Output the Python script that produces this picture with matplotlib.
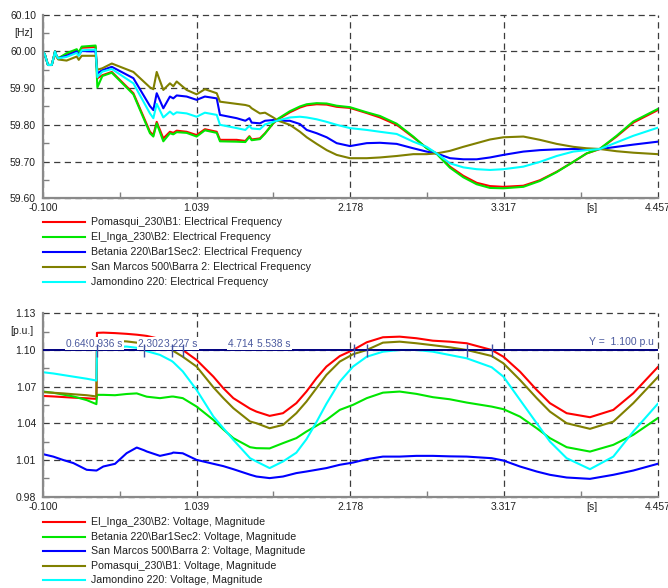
import numpy as np
import matplotlib.pyplot as plt

plt.rcParams['font.family'] = ['Liberation Sans', 'DejaVu Sans']

# shared time axis [s]
x_ticks = [-0.100, 1.039, 2.178, 3.317, 4.457]
x_ticklabels = ['-0.100', '1.039', '2.178', '3.317', '4.457']

# ---- electrical frequency [Hz] ----
t_freq = [-0.100, -0.085, -0.063, -0.035, -0.020, -0.011, 0.000, 0.013,
          0.075, 0.150, 0.165, 0.187, 0.290, 0.303, 0.340, 0.410,
          0.570, 0.693, 0.718, 0.743, 0.792, 0.841, 0.866, 0.891,
          0.965, 1.039, 1.100, 1.188, 1.212, 1.336, 1.400, 1.430,
          1.447, 1.508, 1.546, 1.607, 1.644, 1.730, 1.805, 1.855,
          1.929, 2.003, 2.077, 2.176, 2.300, 2.398, 2.522, 2.645,
          2.744, 2.818, 2.917, 3.016, 3.115, 3.214, 3.313, 3.461,
          3.584, 3.708, 3.831, 3.930, 4.029, 4.152, 4.276, 4.457]

f_pomasqui = [60.000, 59.990, 59.963, 59.963, 59.985, 60.000, 59.988, 59.981,
              59.993, 60.004, 59.995, 60.010, 60.012, 59.927, 59.935, 59.944,
              59.886, 59.781, 59.772, 59.808, 59.763, 59.781, 59.778, 59.784,
              59.781, 59.772, 59.788, 59.781, 59.759, 59.759, 59.756, 59.769,
              59.760, 59.763, 59.777, 59.804, 59.815, 59.834, 59.847, 59.853,
              59.856, 59.855, 59.849, 59.846, 59.832, 59.820, 59.800, 59.766,
              59.737, 59.722, 59.686, 59.661, 59.642, 59.633, 59.631, 59.634,
              59.649, 59.672, 59.699, 59.722, 59.734, 59.768, 59.806, 59.840]

f_el_inga = [60.000, 59.990, 59.963, 59.963, 59.985, 60.000, 59.988, 59.981,
             59.995, 60.006, 59.997, 60.013, 60.016, 59.902, 59.933, 59.942,
             59.883, 59.777, 59.768, 59.804, 59.755, 59.777, 59.774, 59.780,
             59.778, 59.768, 59.785, 59.778, 59.755, 59.754, 59.753, 59.767,
             59.758, 59.761, 59.776, 59.805, 59.817, 59.837, 59.850, 59.856,
             59.859, 59.858, 59.852, 59.848, 59.834, 59.824, 59.803, 59.768,
             59.736, 59.721, 59.683, 59.657, 59.638, 59.628, 59.627, 59.631,
             59.647, 59.671, 59.699, 59.722, 59.735, 59.770, 59.809, 59.843]

f_betania = [60.000, 59.990, 59.963, 59.963, 59.985, 60.000, 59.988, 59.981,
             59.988, 60.000, 59.990, 60.001, 60.000, 59.940, 59.949, 59.958,
             59.927, 59.851, 59.840, 59.886, 59.845, 59.877, 59.872, 59.880,
             59.877, 59.868, 59.877, 59.872, 59.827, 59.818, 59.811, 59.818,
             59.806, 59.804, 59.811, 59.813, 59.811, 59.811, 59.802, 59.786,
             59.777, 59.766, 59.750, 59.742, 59.750, 59.751, 59.748, 59.736,
             59.727, 59.722, 59.709, 59.706, 59.706, 59.711, 59.718, 59.727,
             59.731, 59.733, 59.734, 59.734, 59.734, 59.740, 59.746, 59.754]

f_san_marcos = [60.000, 59.990, 59.963, 59.963, 59.985, 60.000, 59.985, 59.978,
                59.975, 59.986, 59.977, 59.988, 59.988, 59.950, 59.954, 59.967,
                59.944, 59.902, 59.897, 59.944, 59.895, 59.913, 59.905, 59.918,
                59.895, 59.883, 59.897, 59.886, 59.863, 59.857, 59.854, 59.851,
                59.845, 59.831, 59.833, 59.820, 59.811, 59.800, 59.781, 59.766,
                59.748, 59.731, 59.718, 59.709, 59.709, 59.711, 59.715, 59.720,
                59.720, 59.722, 59.729, 59.740, 59.750, 59.760, 59.766, 59.768,
                59.759, 59.748, 59.740, 59.736, 59.734, 59.728, 59.724, 59.720]

f_jamondino = [60.000, 59.990, 59.963, 59.963, 59.985, 60.000, 59.988, 59.981,
               59.985, 59.996, 59.988, 60.003, 60.005, 59.930, 59.945, 59.952,
               59.913, 59.831, 59.818, 59.857, 59.820, 59.836, 59.828, 59.834,
               59.831, 59.822, 59.833, 59.827, 59.800, 59.791, 59.786, 59.797,
               59.790, 59.788, 59.801, 59.808, 59.812, 59.820, 59.822, 59.820,
               59.815, 59.808, 59.800, 59.791, 59.786, 59.781, 59.775, 59.754,
               59.740, 59.722, 59.695, 59.684, 59.679, 59.677, 59.679, 59.686,
               59.699, 59.715, 59.727, 59.731, 59.734, 59.752, 59.770, 59.792]

freq_ticks = [59.60, 59.70, 59.80, 59.90, 60.00, 60.10]
freq_ticklabels = ['59.60', '59.70', '59.80', '59.90', '60.00', '60.10']
freq_labels = ['Pomasqui_230\\B1: Electrical Frequency',
               'El_Inga_230\\B2: Electrical Frequency',
               'Betania 220\\Bar1Sec2: Electrical Frequency',
               'San Marcos 500\\Barra 2: Electrical Frequency',
               'Jamondino 220: Electrical Frequency']

# ---- voltage magnitude [p.u.] ----
t_volt = [-0.100, -0.024, 0.050, 0.125, 0.224, 0.296, 0.300, 0.347,
          0.434, 0.520, 0.595, 0.649, 0.669, 0.767, 0.854, 0.866,
          0.936, 1.039, 1.163, 1.237, 1.311, 1.435, 1.482, 1.580,
          1.679, 1.778, 1.853, 1.927, 2.001, 2.100, 2.198, 2.300,
          2.420, 2.544, 2.668, 2.790, 2.915, 3.041, 3.226, 3.313,
          3.436, 3.560, 3.658, 3.782, 3.955, 4.128, 4.276, 4.457]

v_el_inga = [1.0624, 1.0620, 1.0615, 1.0610, 1.0605, 1.0600, 1.1140, 1.1142,
             1.1138, 1.1132, 1.1125, 1.1118, 1.1115, 1.1090, 1.1045, 1.1038,
             1.1000, 1.0918, 1.0782, 1.0687, 1.0606, 1.0520, 1.0496, 1.0461,
             1.0483, 1.0565, 1.0660, 1.0769, 1.0864, 1.0950, 1.1000, 1.1063,
             1.1104, 1.1109, 1.1096, 1.1076, 1.1068, 1.1055, 1.1000, 1.0945,
             1.0823, 1.0673, 1.0565, 1.0483, 1.0450, 1.0510, 1.0646, 1.0859]

v_betania = [1.0660, 1.0650, 1.0635, 1.0620, 1.0590, 1.0557, 1.0633, 1.0633,
             1.0630, 1.0640, 1.0645, 1.0625, 1.0618, 1.0606, 1.0619, 1.0619,
             1.0606, 1.0537, 1.0428, 1.0350, 1.0279, 1.0205, 1.0197, 1.0195,
             1.0238, 1.0279, 1.0333, 1.0380, 1.0428, 1.0510, 1.0551, 1.0606,
             1.0651, 1.0660, 1.0641, 1.0614, 1.0597, 1.0570, 1.0537, 1.0516,
             1.0455, 1.0360, 1.0279, 1.0205, 1.0169, 1.0224, 1.0306, 1.0442]

v_san_marcos = [1.0148, 1.0128, 1.0100, 1.0075, 1.0020, 1.0014, 1.0016, 1.0047,
                1.0069, 1.0156, 1.0202, 1.0180, 1.0170, 1.0134, 1.0155, 1.0161,
                1.0155, 1.0101, 1.0069, 1.0050, 1.0025, 0.9980, 0.9965, 0.9952,
                0.9965, 0.9993, 1.0006, 1.0020, 1.0034, 1.0061, 1.0079, 1.0107,
                1.0128, 1.0128, 1.0134, 1.0134, 1.0130, 1.0128, 1.0115, 1.0096,
                1.0047, 1.0006, 0.9979, 0.9957, 0.9946, 0.9979, 1.0014, 1.0069]

v_pomasqui = [1.0655, 1.0650, 1.0645, 1.0638, 1.0630, 1.0620, 1.1080, 1.1080,
              1.1075, 1.1070, 1.1060, 1.1050, 1.1045, 1.1030, 1.1000, 1.0992,
              1.0945, 1.0864, 1.0695, 1.0606, 1.0524, 1.0415, 1.0401, 1.0360,
              1.0387, 1.0483, 1.0578, 1.0687, 1.0796, 1.0905, 1.0965, 1.1000,
              1.1060, 1.1068, 1.1055, 1.1039, 1.1022, 1.1000, 1.0951, 1.0891,
              1.0755, 1.0606, 1.0496, 1.0401, 1.0355, 1.0414, 1.0565, 1.0777]

v_jamondino = [1.0818, 1.0808, 1.0795, 1.0782, 1.0765, 1.0750, 1.1005, 1.1015,
               1.1025, 1.1028, 1.1018, 1.1000, 1.0990, 1.0960, 1.0910, 1.0900,
               1.0825, 1.0673, 1.0456, 1.0360, 1.0265, 1.0115, 1.0088, 1.0034,
               1.0088, 1.0160, 1.0270, 1.0410, 1.0560, 1.0741, 1.0864, 1.0945,
               1.0986, 1.1000, 1.1000, 1.0986, 1.0959, 1.0932, 1.0859, 1.0782,
               1.0592, 1.0401, 1.0251, 1.0115, 1.0025, 1.0128, 1.0333, 1.0559]

volt_ticks = [0.98, 1.01, 1.04, 1.07, 1.10, 1.13]
volt_ticklabels = ['0.98', '1.01', '1.04', '1.07', '1.10', '1.13']
volt_labels = ['El_Inga_230\\B2: Voltage, Magnitude',
               'Betania 220\\Bar1Sec2: Voltage, Magnitude',
               'San Marcos 500\\Barra 2: Voltage, Magnitude',
               'Pomasqui_230\\B1: Voltage, Magnitude',
               'Jamondino 220: Voltage, Magnitude']

# y-cursor at 1.100 p.u. and where the curves cross it
y_cursor = 1.100
cross_times = [0.298, 0.649, 0.854, 0.936, 2.204, 2.304, 3.041, 3.226]
cursor_texts = ['0.649 s', '0.936 s', '2.302 s', '3.227 s', '4.714 s', '5.538 s']

colors = ['#ff0000', '#00e600', '#0000ff', '#808000', '#00ffff']
W, H = 668, 588
TXT = '#202020'


def style_axes(ax, yticks, ylabels):
    ax.set_xlim(x_ticks[0], x_ticks[-1])
    ax.set_ylim(yticks[0], yticks[-1])
    ax.set_xticks(x_ticks)
    ax.set_xticklabels(x_ticklabels)
    ax.set_yticks(yticks)
    ax.set_yticklabels(ylabels)
    ax.set_xticks(np.convolve(x_ticks, [0.5, 0.5], 'valid'), minor=True)
    ax.set_yticks(np.convolve(yticks, [0.5, 0.5], 'valid'), minor=True)
    ax.tick_params(which='major', length=0, labelsize=7.5, labelcolor=TXT)
    ax.tick_params(axis='x', which='major', pad=3.5)
    ax.tick_params(axis='y', which='major', pad=5)
    ax.tick_params(which='minor', direction='in', length=4, width=1, color='#808080')
    for s in ['top', 'right']:
        ax.spines[s].set_visible(False)
    for s in ['left', 'bottom']:
        ax.spines[s].set_color('#8a8a8a')
        ax.spines[s].set_linewidth(1.6)
        ax.spines[s].set_zorder(5)
    ax.grid(which='major', color='#3c3c3c', lw=0.9, ls=(0, (5, 3.5)))
    for gl in ax.get_xgridlines() + ax.get_ygridlines():
        gl.set_clip_on(False)
    ax.set_axisbelow(True)


def draw_legend(labels, y0, dy):
    for i, (lab, c) in enumerate(zip(labels, colors)):
        y = 1 - (y0 + i * dy) / H
        fig.add_artist(plt.Line2D([43 / W, 85 / W], [y, y], color=c, lw=1.5))
        fig.text(91 / W, y, lab, fontsize=7.7, color=TXT, va='center', ha='left')


fig = plt.figure(figsize=(W / 100, H / 100), dpi=100)
ax1 = fig.add_axes([43 / W, 1 - 198.2 / H, 614.7 / W, 183.5 / H])
ax2 = fig.add_axes([43 / W, 1 - 496.7 / H, 614.7 / W, 183.4 / H])

# frequency plot
for series, c in zip([f_pomasqui, f_el_inga, f_betania, f_san_marcos, f_jamondino], colors):
    ax1.plot(t_freq, series, color=c, lw=1.5)
style_axes(ax1, freq_ticks, freq_ticklabels)
fig.text(24 / W, 1 - 33.3 / H, '[Hz]', fontsize=7.5, color=TXT, ha='center', va='center')
fig.text(592 / W, 1 - 208.3 / H, '[s]', fontsize=7.5, color=TXT, ha='center', va='center')
draw_legend(freq_labels, 222.4, 14.8)

# voltage plot
for series, c in zip([v_el_inga, v_betania, v_san_marcos, v_pomasqui, v_jamondino], colors):
    ax2.plot(t_volt, series, color=c, lw=1.5)
style_axes(ax2, volt_ticks, volt_ticklabels)
fig.text(21.5 / W, 1 - 331.5 / H, '[p.u.]', fontsize=7.5, color=TXT, ha='center', va='center')
fig.text(592 / W, 1 - 507 / H, '[s]', fontsize=7.5, color=TXT, ha='center', va='center')
draw_legend(volt_labels, 522.3, 14.5)

# cursor line with crossing markers and labels
ax2.axhline(y_cursor, color='#000080', lw=1.4, zorder=6)
ax2.vlines(cross_times, y_cursor - 0.0055, y_cursor + 0.0045, color='#4050a0', lw=1, zorder=8)
label_pos = [0.070, 0.241, 0.604, 0.797, 1.271, 1.486]
for tx, s in zip(label_pos, cursor_texts):
    ax2.text(tx, 1.1052, s, fontsize=7.3, color='#4b5a9e', ha='left', va='center', zorder=7,
             bbox=dict(boxstyle='square,pad=0.12', fc='white', ec='none'))
ax2.text(4.430, 1.1063, 'Y =  1.100 p.u', fontsize=7.5, color='#4b5a9e', ha='right',
         va='center', zorder=7)

fig.savefig('out.png', dpi=100)
